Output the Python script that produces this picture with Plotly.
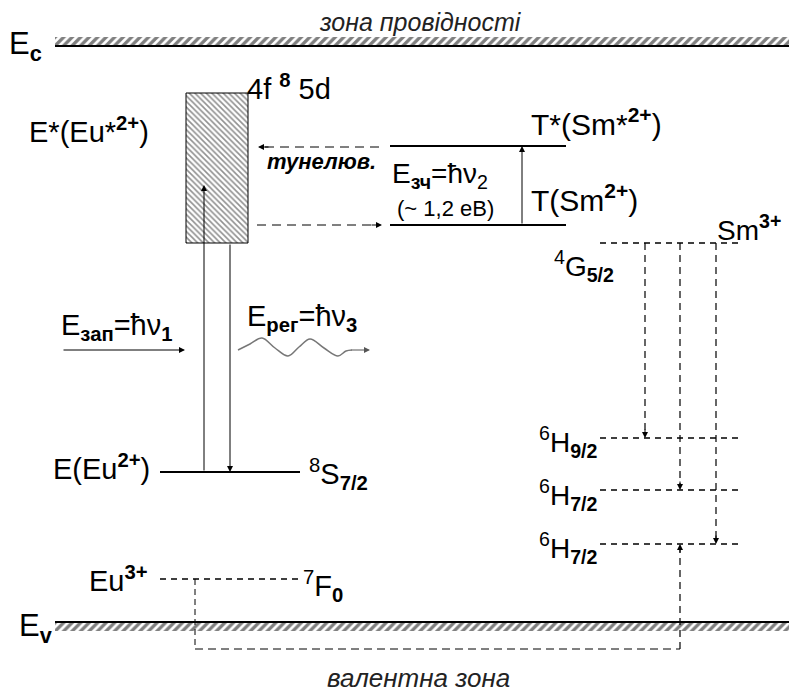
import plotly.graph_objects as go

W, H = 797, 696
OFF = 8  # page body margin compensation
FONT = "Liberation Sans, Arial, sans-serif"

# ---- diagram data (energy positions in picture units) ----
band_names = ["Ec", "Ev"]
band_top = [37, 622]
band_bottom = [46, 631]
band_x0 = 55

eu_level_names = ["E(Eu2+)", "Eu3+"]
eu_level_y = [472, 579]
eu_level_x = [160, 300]

sm2_level_names = ["T*(Sm*2+)", "T(Sm2+)"]
sm2_level_y = [146, 225]
sm2_level_x = [390, 566]

sm3_level_names = ["4G5/2", "6H9/2", "6H7/2 a", "6H7/2 b"]
sm3_level_y = [243, 438, 490, 544]
sm3_level_x = [600, 742]
sm3_trans_x = [645, 680, 716]

box_x = [186, 248]
box_y = [93, 243]

wave_x = [238, 250, 262, 275, 288, 299, 310, 324, 338, 346, 352]
wave_y = [350, 344, 338, 348, 356, 347, 339, 348, 356, 351, 350]

fig = go.Figure()

# bands (hatched)
for top, bot in zip(band_top, band_bottom):
    fig.add_trace(go.Scatter(
        x=[band_x0, W, W, band_x0, band_x0], y=[top, top, bot, bot, top],
        mode="lines", fill="toself", line=dict(width=0),
        fillcolor="rgba(0,0,0,0)",
        fillpattern=dict(shape="/", size=6, solidity=0.55, fgcolor="black", bgcolor="white"),
        hoverinfo="skip", showlegend=False))
fig.add_shape(type="line", x0=band_x0, x1=W, y0=band_bottom[0], y1=band_bottom[0], line=dict(color="black", width=2))
fig.add_shape(type="line", x0=band_x0, x1=W, y0=band_top[1], y1=band_top[1], line=dict(color="black", width=2))

# 4f8 5d box
fig.add_trace(go.Scatter(
    x=[box_x[0], box_x[1], box_x[1], box_x[0], box_x[0]],
    y=[box_y[0], box_y[0], box_y[1], box_y[1], box_y[0]],
    mode="lines", fill="toself", line=dict(width=1, color="black"),
    fillcolor="rgba(0,0,0,0)",
    fillpattern=dict(shape="\\", size=4, solidity=0.4, fgcolor="#222", bgcolor="white"),
    hoverinfo="skip", showlegend=False))

# solid levels
fig.add_shape(type="line", x0=eu_level_x[0], x1=eu_level_x[1], y0=eu_level_y[0], y1=eu_level_y[0], line=dict(color="black", width=2))
for y in sm2_level_y:
    fig.add_shape(type="line", x0=sm2_level_x[0], x1=sm2_level_x[1], y0=y, y1=y, line=dict(color="black", width=2))

# dashed levels
fig.add_shape(type="line", x0=eu_level_x[0], x1=eu_level_x[1], y0=eu_level_y[1], y1=eu_level_y[1], line=dict(color="black", width=1.5, dash="6px,5px"))
for y in sm3_level_y:
    fig.add_shape(type="line", x0=sm3_level_x[0], x1=sm3_level_x[1], y0=y, y1=y, line=dict(color="black", width=1.5, dash="6px,5px"))

# dashed transitions Sm3+
for xt, yt in zip(sm3_trans_x, sm3_level_y[1:]):
    fig.add_shape(type="line", x0=xt, x1=xt, y0=sm3_level_y[0], y1=yt - 6, line=dict(color="black", width=1.2, dash="7px,5px"))

# Eu3+ -> Sm hole path
bx, bx2, by = 195, 680, 649
fig.add_shape(type="line", x0=bx, x1=bx, y0=eu_level_y[1], y1=by, line=dict(color="black", width=1, dash="6px,4px"))
fig.add_shape(type="line", x0=bx, x1=bx2, y0=by, y1=by, line=dict(color="black", width=1, dash="8px,5px"))
fig.add_shape(type="line", x0=bx2, x1=bx2, y0=by, y1=sm3_level_y[3] + 6, line=dict(color="black", width=1.2, dash="7px,5px"))

# tunnelling dashed lines
fig.add_shape(type="line", x0=265, x1=383, y0=147, y1=147, line=dict(color="black", width=1, dash="9px,6px"))
fig.add_shape(type="line", x0=257, x1=375, y0=225, y1=225, line=dict(color="black", width=1, dash="9px,6px"))

# wave
fig.add_trace(go.Scatter(x=wave_x, y=wave_y, mode="lines", line=dict(color="#777", width=1.5, shape="spline"),
                         hoverinfo="skip", showlegend=False))

def arrow(x, y, ax, ay, color="black", width=1, head=2, size=1.2):
    fig.add_annotation(x=x, y=y, ax=ax, ay=ay, xref="x", yref="y", axref="x", ayref="y",
                       text="", showarrow=True, arrowhead=head, arrowsize=size,
                       arrowwidth=width, arrowcolor=color)

# excitation / emission vertical
arrow(204, 185, 204, eu_level_y[0])
arrow(230, eu_level_y[0], 230, box_y[1])
# T -> T* excitation
arrow(522, sm2_level_y[0], 522, sm2_level_y[1])
# tunnelling heads
arrow(258, 147, 270, 147)
arrow(382, 225, 370, 225)
# Sm3+ transition heads
for xt, yt in zip(sm3_trans_x, sm3_level_y[1:]):
    arrow(xt, yt, xt, yt - 10)
arrow(bx2, sm3_level_y[3], bx2, sm3_level_y[3] + 10)
# E_zap arrow
arrow(185, 350, 62, 350)
# wave arrow
arrow(370, 350, 350, 350, color="#555")

def label(x, y, text, size=29, xanchor="left", yanchor="middle", color="black", family=FONT):
    fig.add_annotation(x=x, y=y, xref="x", yref="y", text=text, showarrow=False,
                       xanchor=xanchor, yanchor=yanchor, borderpad=0,
                       font=dict(size=size, color=color, family=family))

label(420, 22, "<i>зона провідності</i>", size=25, xanchor="center", color="#222")
label(418, 678, "<i>валентна зона</i>", size=26, xanchor="center", color="#222")
label(8, 46, "E<sub><b>c</b></sub>", size=31)
label(18, 628, "E<sub><b>v</b></sub>", size=31)
label(246, 87, "4f <sup><b>8</b></sup> 5d", size=29)
label(28, 130, "E*(Eu*<sup><b>2+</b></sup>)", size=29)
label(52, 467, "E(Eu<sup><b>2+</b></sup>)", size=29)
label(308, 474, "<sup>8</sup>S<sub><b>7/2</b></sub>", size=29)
label(88, 579, "Eu<sup><b>3+</b></sup>", size=29)
label(302, 586, "<sup>7</sup>F<sub><b>0</b></sub>", size=29)
label(266, 161, "<b><i>тунелюв.</i></b>", size=22)
label(391, 175, "E<sub><b>зч</b></sub>=ħν<sub>2</sub>", size=28)
label(396, 208, "(~ 1,2 eB)", size=22)
label(530, 122, "T*(Sm*<sup><b>2+</b></sup>)", size=30)
label(530, 198, "T(Sm<sup><b>2+</b></sup>)", size=30)
label(716, 228, "Sm<sup><b>3+</b></sup>", size=28)
label(553, 266, "<sup>4</sup>G<sub><b>5/2</b></sub>", size=28)
label(538, 442, "<sup>6</sup>H<sub><b>9/2</b></sub>", size=28)
label(538, 495, "<sup>6</sup>H<sub><b>7/2</b></sub>", size=28)
label(538, 548, "<sup>6</sup>H<sub><b>7/2</b></sub>", size=28)
label(60, 327, "E<sub><b>зап</b></sub>=ħν<sub><b>1</b></sub>", size=29)
label(246, 318, "E<sub><b>рег</b></sub>=ħν<sub><b>3</b></sub>", size=29)

fig.update_layout(
    width=W - OFF, height=H - OFF, margin=dict(l=0, r=0, t=0, b=0),
    paper_bgcolor="white", plot_bgcolor="white",
    xaxis=dict(range=[OFF, W], visible=False, fixedrange=True),
    yaxis=dict(range=[H, OFF], visible=False, fixedrange=True),
    showlegend=False,
)
fig.write_html("out.html")
